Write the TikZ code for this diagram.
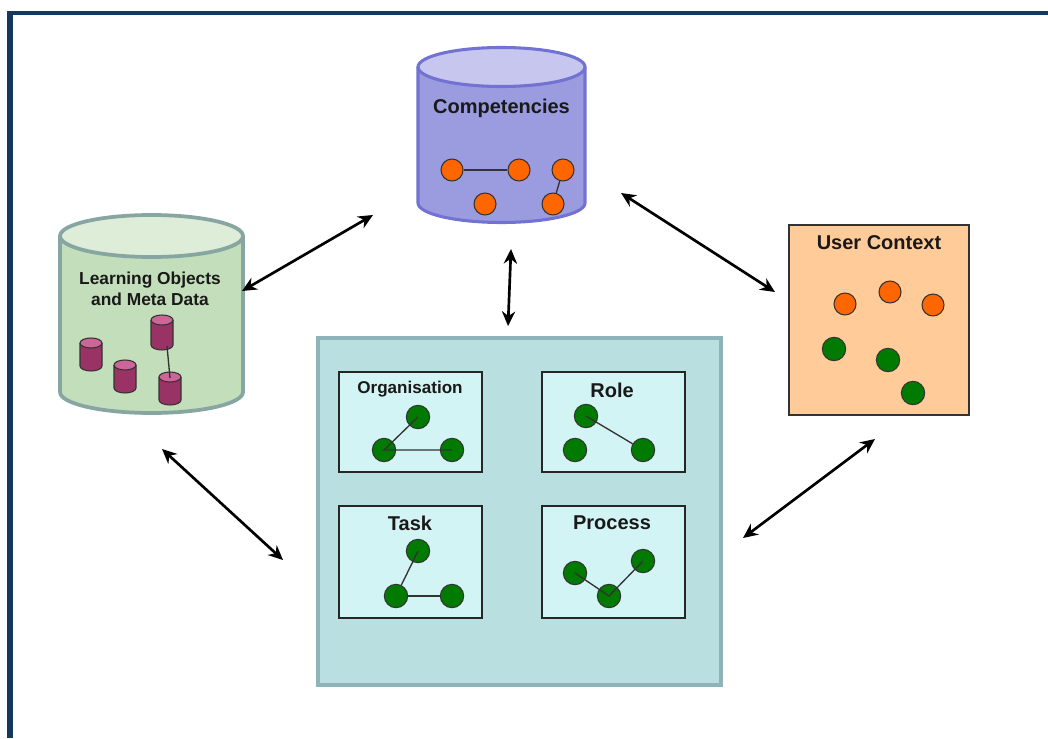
\documentclass[tikz,border=0pt]{standalone}
\usepackage{fontspec}
\setmainfont{Liberation Sans}
\usetikzlibrary{arrows.meta}
\definecolor{navy}{HTML}{17375E}
\definecolor{compbody}{HTML}{9B9BDF}
\definecolor{comptop}{HTML}{C6C6EF}
\definecolor{compline}{HTML}{7272D2}
\definecolor{lobody}{HTML}{C3DEBA}
\definecolor{lotop}{HTML}{DDEDD8}
\definecolor{loline}{HTML}{87A6A2}
\definecolor{maroon}{HTML}{993366}
\definecolor{maroontop}{HTML}{CC6699}
\definecolor{ucfill}{HTML}{FFCC99}
\definecolor{bigfill}{HTML}{B9DFE1}
\definecolor{bigline}{HTML}{8FB3B6}
\definecolor{subfill}{HTML}{D3F4F4}
\definecolor{orangedot}{HTML}{FF6600}
\definecolor{greendot}{HTML}{007A00}
\tikzset{
  odot/.style={circle,draw=black!80,line width=0.8pt,fill=orangedot,inner sep=0pt,minimum size=16.5pt},
  gdot/.style={circle,draw=black!80,line width=0.8pt,fill=greendot,inner sep=0pt,minimum size=17.5pt},
  link/.style={draw=black!80,line width=1pt},
  subbox/.style={draw=black!85,line width=1.3pt,fill=subfill},
  title/.style={font=\bfseries\fontsize{15}{18}\selectfont,inner sep=0pt,text=black!90},
  both/.style={{Stealth[length=11pt,width=10pt]}-{Stealth[length=11pt,width=10pt]},line width=2pt,black},
}
\begin{document}
\begin{tikzpicture}[x=0.75pt,y=-0.75pt]
\useasboundingbox (0,0) rectangle (1048,738);
\fill[white] (0,0) rectangle (1048,738);
% frame
\draw[navy,line width=3pt] (7,13) -- (1048,13);
\draw[navy,line width=4.5pt] (10,11) -- (10,738);

% Competencies cylinder
\fill[compbody] (418,67) -- (418,203) arc[start angle=180,end angle=0,x radius=83.5,y radius=19.5] -- (585,67) -- cycle;
\fill[comptop] (501.5,67) ellipse [x radius=83.5,y radius=19.5];
\draw[compline,line width=2.3pt] (418,67) -- (418,203) arc[start angle=180,end angle=0,x radius=83.5,y radius=19.5] -- (585,67);
\draw[compline,line width=2.3pt] (501.5,67) ellipse [x radius=83.5,y radius=19.5];
\node[title] (comp) at (501.5,108) {Competencies};
\node[odot] (c1) at (452,170) {};
\node[odot] (c2) at (519,170) {};
\node[odot] (c3) at (563,170) {};
\node[odot] (c4) at (485,204) {};
\node[odot] (c5) at (553,204) {};
\draw[link] (c1) -- (c2);
\draw[link] (c3) -- (c5);

% Learning objects cylinder
\fill[lobody] (60,236) -- (60,392) arc[start angle=180,end angle=0,x radius=91.5,y radius=21] -- (243,236) -- cycle;
\fill[lotop] (151.5,236) ellipse [x radius=91.5,y radius=21];
\draw[loline,line width=2.8pt] (60,236) -- (60,392) arc[start angle=180,end angle=0,x radius=91.5,y radius=21] -- (243,236);
\draw[loline,line width=2.8pt] (151.5,236) ellipse [x radius=91.5,y radius=21];
\node[font=\bfseries\fontsize{13}{15.8}\selectfont,align=center,inner sep=0pt,text=black!90] (lo) at (150,288.5) {Learning Objects\\and Meta Data};
% small cylinders
\foreach \cx/\t/\b in {91/338/371, 125/360/393, 162/315/350, 170/372/405}{
  \fill[maroon] (\cx-11,\t+5) -- (\cx-11,\b-5) arc[start angle=180,end angle=0,x radius=11,y radius=5] -- (\cx+11,\t+5) -- cycle;
  \draw[black!80,line width=0.8pt] (\cx-11,\t+5) -- (\cx-11,\b-5) arc[start angle=180,end angle=0,x radius=11,y radius=5] -- (\cx+11,\t+5);
  \draw[black!80,line width=0.8pt,fill=maroontop] (\cx,\t+5) ellipse [x radius=11,y radius=5];
}
\coordinate (l1) at (167,346);
\coordinate (l2) at (170,378);
\draw[link] (l1) -- (l2);

% User Context
\node[draw=black!80,line width=1.3pt,fill=ucfill,minimum width=135pt,minimum height=142.5pt,inner sep=0pt] (uc) at (879,320) {};
\node[title] (uct) at (879,243) {User Context};
\node[odot] (u1) at (845,304) {};
\node[odot] (u2) at (890,292) {};
\node[odot] (u3) at (933,305) {};
\node[gdot] (u4) at (834,349) {};
\node[gdot] (u5) at (888,360) {};
\node[gdot] (u6) at (913,393) {};

% central box
\node[draw=bigline,line width=2.3pt,fill=bigfill,minimum width=302.25pt,minimum height=260.25pt,inner sep=0pt] (big) at (519.5,511.5) {};
\node[subbox,minimum width=107.25pt,minimum height=75pt] (org) at (410.5,422) {};
\node[subbox,minimum width=107.25pt,minimum height=75pt] (role) at (613.5,422) {};
\node[subbox,minimum width=107.25pt,minimum height=84pt] (task) at (410.5,562) {};
\node[subbox,minimum width=107.25pt,minimum height=84pt] (proc) at (613.5,562) {};
\node[font=\bfseries\fontsize{12.8}{15}\selectfont,inner sep=0pt,text=black!90] (orgt) at (410,389) {Organisation};
\node[title] (rolet) at (612,390) {Role};
\node[title] (taskt) at (410,523) {Task};
\node[title] (proct) at (612,523) {Process};
% organisation
\node[gdot] (o1) at (418,417) {};
\node[gdot] (o2) at (384,450) {};
\node[gdot] (o3) at (452,450) {};
\draw[link] (o1.center) -- (o2.center) -- (o3.center);
% role
\node[gdot] (r1) at (586,416) {};
\node[gdot] (r2) at (575,450) {};
\node[gdot] (r3) at (643,450) {};
\draw[link] (r1.center) -- (r3);
% task
\node[gdot] (t1) at (418,551) {};
\node[gdot] (t2) at (396,596) {};
\node[gdot] (t3) at (452,596) {};
\draw[link] (t1.center) -- (t2);
\draw[link] (t2) -- (t3);
% process
\node[gdot] (p1) at (575,573) {};
\node[gdot] (p2) at (609,596) {};
\node[gdot] (p3) at (643,561) {};
\draw[link] (p1.center) -- (p2.center) -- (p3.center);

% arrows
\coordinate (a1s) at (242,291);
\coordinate (a1e) at (373,215);
\coordinate (a2s) at (621,193);
\coordinate (a2e) at (775,292);
\coordinate (a3s) at (511,249);
\coordinate (a3e) at (508,326);
\coordinate (a4s) at (162,449);
\coordinate (a4e) at (283,560);
\coordinate (a5s) at (875,439);
\coordinate (a5e) at (743,538);
\draw[both] (a1s) -- (a1e);
\draw[both] (a2s) -- (a2e);
\draw[both] (a3s) -- (a3e);
\draw[both] (a4s) -- (a4e);
\draw[both] (a5s) -- (a5e);
\end{tikzpicture}
\end{document}
